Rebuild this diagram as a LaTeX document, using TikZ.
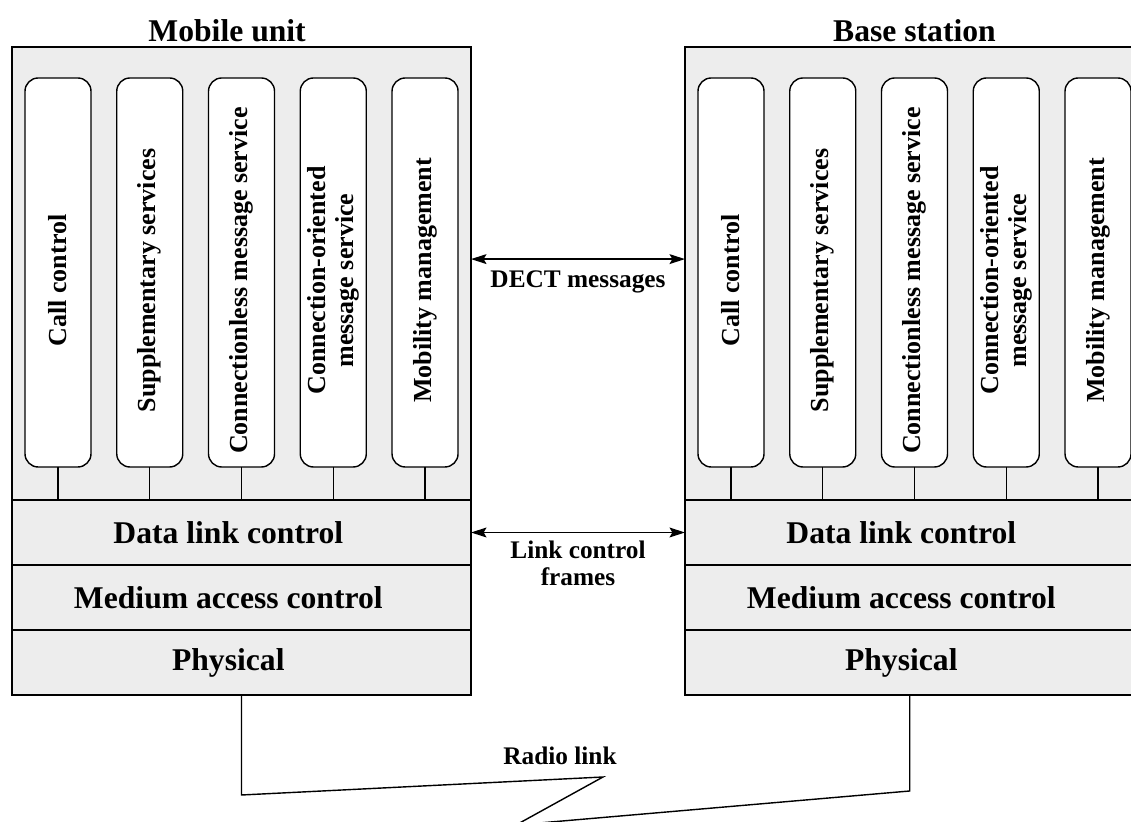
\documentclass[tikz,border=0pt]{standalone}
\usepackage{fontspec}
\setmainfont{Liberation Serif}
\usetikzlibrary{arrows.meta,positioning}

\tikzset{
  stack/.style={draw,fill=black!7,line width=1pt,outer sep=0pt,
    minimum width=11.475cm,minimum height=11.325cm},
  layer/.style={stack,minimum height=1.625cm},
  head/.style={font=\fontsize{22.5}{27}\selectfont\bfseries},
  svc/.style={draw,fill=white,line width=1pt,rounded corners=0.33cm,outer sep=0pt,
    minimum width=1.65cm,minimum height=9.725cm},
  svctext/.style={rotate=90,align=center,font=\fontsize{18.5}{20.5}\selectfont\bfseries},
  msg/.style={align=center,font=\fontsize{18}{19.5}\selectfont\bfseries},
}

\begin{document}
\begin{tikzpicture}[>={Stealth[length=11pt,width=7pt,inset=2pt]},line width=1pt]
  \useasboundingbox (0,0) rectangle (28.275,20.55);

  % the two protocol stacks
  \foreach \s/\x/\name/\dx in {mu/6.0375/Mobile unit/-0.36cm, bs/22.8625/Base station/0cm} {
    \node[stack] (\s) at (\x,13.7125) {};
    \node[head,above=0pt of \s,xshift=\dx] (\s head) {\name};
    \node[layer,below=0pt of \s] (\s dlc) {};
    \node[layer,below=0pt of \s dlc] (\s mac) {};
    \node[layer,below=0pt of \s mac] (\s phy) {};
    \foreach \l/\t in {dlc/Data link control, mac/Medium access control, phy/Physical}
      \node[head] (\s\l txt) at ([xshift=-0.33cm]\s\l) {\t};

    \node[svc,below right=0.775cm and 0.325cm of \s.north west] (\s1) {};
    \foreach \i [count=\j from 2] in {1,...,4}
      \node[svc,right=0.644cm of \s\i] (\s\j) {};

    \foreach \i/\t in {1/Call control, 2/Supplementary services,
        3/Connectionless message service, 4/{Connection-oriented\\message service},
        5/Mobility management} {
      \node[svctext] (\s\i txt) at ([yshift=-0.2cm]\s\i) {\t};
      \draw (\s\i.south) -- (\s\i.south |- \s dlc.north);
    }
  }

  % peer messages
  \draw[<->] ([yshift=0.36cm]mu.east) -- ([yshift=0.36cm]bs.west)
    node[msg,midway,below=0.15cm] (dect) {DECT messages};
  \draw[<->] (mudlc.east) -- (bsdlc.west)
    node[msg,midway,below=2pt] (lcf) {Link control\\frames};

  % radio link
  \coordinate (zigtop) at (15.075,1.125);
  \coordinate (zigbot) at (12.9,-0.075);
  \node[msg] (radio) at (14,1.65) {Radio link};
  \draw (muphy.south) -- ++(0,-2.5) -- (zigtop) -- (zigbot)
    -- ([shift={(-0.12cm,-2.4cm)}]bsphy.south) -- ([xshift=-0.12cm]bsphy.south);
\end{tikzpicture}
\end{document}
